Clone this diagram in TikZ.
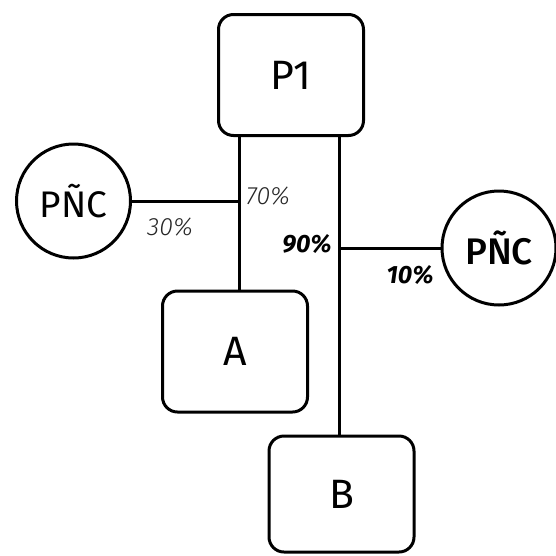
\documentclass[tikz,border=0pt]{standalone}
\usepackage{fontspec}
\setmainfont{Fira Sans}
\newfontfamily\medfont{Fira Sans Medium}
\newfontfamily\lightfont{Fira Sans Light}
\usetikzlibrary{positioning, calc}

\begin{document}
\begin{tikzpicture}[x=1pt, y=-1pt,
        part/.style={rectangle, draw=black, line width=3pt, rounded corners=15pt, minimum width=145pt, minimum height=121pt, inner sep=0pt, font=\fontsize{41}{41}\selectfont},
        loss/.style={circle, draw=black, line width=3pt, minimum size=114pt, inner sep=0pt, font=\fontsize{37}{37}\selectfont},
        link/.style={line width=3pt},
        share/.style={font=\fontsize{25}{25}\lightfont\itshape, text=black!85, inner sep=0pt},
        sharebold/.style={font=\fontsize{25}{25}\selectfont\bfseries\itshape, inner sep=0pt}
    ]
        \useasboundingbox (0,0) rectangle (556,555);
        \node[part] (p1) at (291,75) {P1};
        \node[part] (a) at (235,351.5) {A};
        \node[part, minimum height=116pt] (b) at (341.5,494) {B};
        \node[loss] (pncl) at (73.5,201) {PÑC};
        \node[loss, font=\fontsize{37}{37}\medfont] (pncr) at (499,248) {PÑC};
        \coordinate (j1) at (239,201);
        \coordinate (j2) at (339,248);
        \draw[link] (p1.south -| j1) -- (j1) -- (a.north -| j1);
        \draw[link] (p1.south -| j2) -- (j2) -- (b.north -| j2);
        \draw[link] (pncl) -- (j1);
        \draw[link] (j2) -- (pncr);
        \node[share] (s70) at (268,196) {70\%};
        \node[share] (s30) at (170,227) {30\%};
        \node[sharebold] (s90) at (307,244) {90\%};
        \node[sharebold] (s10) at (410,275) {10\%};
    \end{tikzpicture}
\end{document}
